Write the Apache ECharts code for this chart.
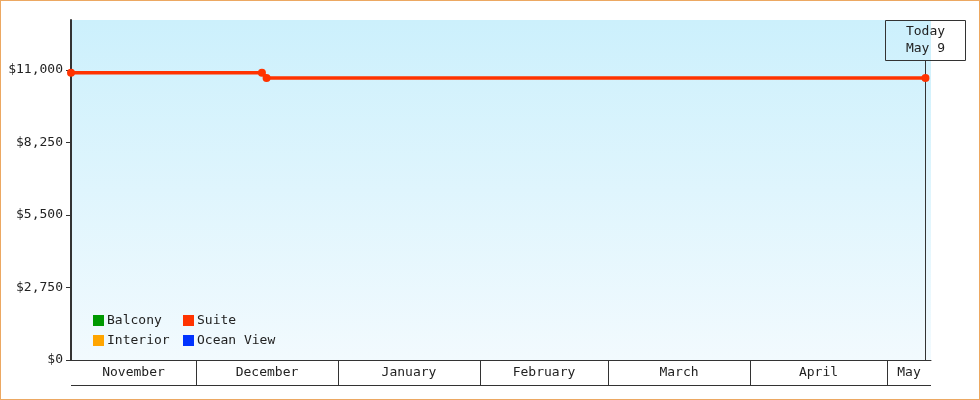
<!DOCTYPE html>
<html>
<head>
<meta charset="utf-8">
<script src="https://cdn.jsdelivr.net/npm/echarts@6/dist/echarts.min.js"></script>
<style>
  html, body { margin: 0; padding: 0; background: #fff; }
  #wrap { position: relative; width: 980px; height: 400px; }
  #chart { width: 980px; height: 400px; }
  #frame {
    position: absolute; left: 0; top: 0; width: 980px; height: 400px;
    box-sizing: border-box; border: 1px solid #eca862; pointer-events: none;
  }
</style>
</head>
<body>
<div id="wrap"><div id="chart"></div><div id="frame"></div></div>
<script>
"use strict";

// cabin types shown in the legend (only Suite has a price history)
var cabinNames = ["Balcony", "Interior", "Suite", "Ocean View"];
var cabinColors = ["#009900", "#ffa500", "#ff3300", "#0033ff"];

// Suite price points
var suiteDates = ["2024-11-03T17:00", "2024-12-15T10:00", "2024-12-16T10:30", "2025-05-09T09:00"];
var suitePrices = [10900, 10900, 10700, 10700];

// y axis
var yTicks = [0, 2750, 5500, 8250, 11000];
var yMax = 12900;

// x axis range and month bands
var axisStartStr = "2024-11-03T17:00";
var axisEndStr = "2025-05-10T14:00";
var monthNames = ["November", "December", "January", "February", "March", "April", "May"];
var monthStarts = ["2024-11-01T00:00", "2024-12-01T00:00", "2025-01-01T00:00", "2025-02-01T00:00",
                   "2025-03-01T00:00", "2025-04-01T00:00", "2025-05-01T00:00", "2025-06-01T00:00"];

// today marker
var todayDate = "2025-05-09T09:00";
var todayLabel = ["Today", "May 9"];

var FONT = '"DejaVu Sans Mono", "Liberation Mono", monospace';
var INK = "#333";

function toTime(s) {
  return new Date(s).getTime();
}

var axisStart = toTime(axisStartStr);
var axisEnd = toTime(axisEndStr);

var suiteData = suiteDates.map(function (d, i) {
  return [toTime(d), suitePrices[i]];
});

var monthData = monthNames.map(function (name, i) {
  return [toTime(monthStarts[i]), toTime(monthStarts[i + 1])];
});

function renderMonth(params, api) {
  var cs = params.coordSys;
  var rawStart = api.value(0);
  var start = Math.max(rawStart, axisStart);
  var end = Math.min(api.value(1), axisEnd);
  if (end <= start) return;
  var x0 = Math.round(api.coord([start, 0])[0]);
  var x1 = Math.round(api.coord([end, 0])[0]);
  var yb = cs.y + cs.height;
  var children = [
    {
      type: "line",
      shape: { x1: x0, y1: yb + 25.5, x2: x1, y2: yb + 25.5 },
      style: { stroke: INK, lineWidth: 1 }
    },
    {
      type: "text",
      style: {
        text: monthNames[params.dataIndex],
        x: (x0 + x1) / 2, y: yb + 13,
        align: "center", verticalAlign: "middle",
        font: "13px " + FONT, fill: "#222"
      }
    }
  ];
  if (rawStart > axisStart) {
    children.push({
      type: "line",
      shape: { x1: x0 + 0.5, y1: yb, x2: x0 + 0.5, y2: yb + 25 },
      style: { stroke: INK, lineWidth: 1 }
    });
  }
  return { type: "group", children: children };
}

function renderToday(params, api) {
  var cs = params.coordSys;
  var x = Math.round(api.coord([api.value(0), 0])[0]) + 0.5;
  var top = cs.y;
  return {
    type: "group",
    children: [
      {
        type: "line",
        shape: { x1: x, y1: top + 40, x2: x, y2: cs.y + cs.height },
        style: { stroke: INK, lineWidth: 1 }
      },
      {
        type: "rect",
        shape: { x: x - 40, y: top + 0.5, width: 80, height: 40 },
        style: { fill: "none", stroke: INK, lineWidth: 1 }
      },
      {
        type: "text",
        style: {
          text: todayLabel.join("\n"),
          x: x, y: top + 20,
          align: "center", verticalAlign: "middle",
          lineHeight: 17,
          font: "13px " + FONT, fill: "#222"
        }
      }
    ]
  };
}

var chart = echarts.init(document.getElementById("chart"));

var series = cabinNames.map(function (name, i) {
  return {
    name: name,
    type: "line",
    color: cabinColors[i],
    data: name === "Suite" ? suiteData : [],
    symbol: "circle",
    symbolSize: 8,
    lineStyle: { width: 3.5 },
    animation: false,
    z: 5
  };
});

series.push({
  type: "custom",
  name: "months",
  renderItem: renderMonth,
  data: monthData,
  clip: false,
  silent: true,
  animation: false,
  z: 3
});

series.push({
  type: "custom",
  name: "today",
  renderItem: renderToday,
  data: [[toTime(todayDate), yMax]],
  clip: false,
  silent: true,
  animation: false,
  z: 4
});

var legendCommon = {
  orient: "vertical",
  icon: "rect",
  itemWidth: 11,
  itemHeight: 11,
  itemGap: 7,
  padding: 0,
  selectedMode: false,
  textStyle: { fontFamily: FONT, fontSize: 13, color: "#222", padding: [0, 0, 0, -2] },
  top: 314
};

chart.setOption({
  animation: false,
  grid: {
    left: 71, right: 49, top: 20, bottom: 40,
    show: true,
    borderWidth: 0,
    backgroundColor: {
      type: "linear", x: 0, y: 0, x2: 0, y2: 1,
      colorStops: [
        { offset: 0, color: "#ccf0fc" },
        { offset: 1, color: "#f2fafe" }
      ]
    }
  },
  legend: [
    Object.assign({ left: 93, data: ["Balcony", "Interior"] }, legendCommon),
    Object.assign({ left: 183, data: ["Suite", "Ocean View"] }, legendCommon)
  ],
  xAxis: {
    type: "time",
    min: axisStart,
    max: axisEnd,
    axisLine: { show: true, lineStyle: { color: INK, width: 1 } },
    axisTick: { show: false },
    axisLabel: { show: false },
    splitLine: { show: false }
  },
  yAxis: {
    type: "value",
    min: 0,
    max: yMax,
    interval: 2750,
    axisLine: { show: true, lineStyle: { color: INK, width: 2 } },
    axisTick: { show: true, length: 5, customValues: yTicks, lineStyle: { color: INK, width: 1 } },
    axisLabel: {
      customValues: yTicks,
      margin: 8,
      fontFamily: FONT,
      fontSize: 13,
      color: "#222",
      formatter: function (v) {
        return "$" + v.toLocaleString("en-US");
      }
    },
    splitLine: { show: false }
  },
  series: series
});
</script>
</body>
</html>
